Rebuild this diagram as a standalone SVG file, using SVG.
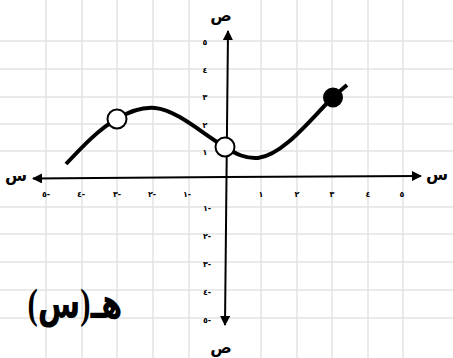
<svg xmlns="http://www.w3.org/2000/svg" width="453" height="358" viewBox="0 0 453 358">
<defs>
<marker id="arr" viewBox="0 0 10 10" refX="9" refY="5" markerWidth="5" markerHeight="5" orient="auto" markerUnits="strokeWidth">
<path d="M0,0 L10,5 L0,10 z" fill="#000"/>
</marker>
<style>
.grid{stroke:#e3e3e3;stroke-width:1.5;fill:none}
.axis{stroke:#000;stroke-width:2;fill:none;marker-end:url(#arr)}
.tick{font-family:"DejaVu Sans",sans-serif;font-size:8px;font-weight:bold;fill:#000;text-anchor:middle}
.ax{font-family:"DejaVu Sans",sans-serif;font-size:16px;font-weight:bold;fill:#000;text-anchor:middle}
.curve{stroke:#000;stroke-width:4;fill:none;stroke-linecap:butt}
.open{fill:#fff;stroke:#000;stroke-width:2}
.closed{fill:#000;stroke:#000;stroke-width:2}
</style>
</defs>
<rect width="453" height="358" fill="#fff"/>
<g id="grid" class="grid">
<path d="M46,0V358M82,0V358M117,0V358M153,0V358M189,0V358M261,0V358M297,0V358M332,0V358M368,0V358M403,0V358"/>
<path d="M0,41H453M0,69H453M0,97H453M0,124H453M0,151H453M0,207H453M0,234H453M0,262H453M0,290H453M0,318H453"/>
</g>
<g id="connectors">
<line class="axis" x1="226" y1="177" x2="421" y2="176"/>
<line class="axis" x1="226" y1="177" x2="33" y2="178.5"/>
<line class="axis" x1="226.5" y1="177" x2="228" y2="31"/>
<line class="axis" x1="226.5" y1="177" x2="225" y2="325"/>
</g>
<g id="axis-labels">
<text class="ax" x="16" y="181">س</text>
<text class="ax" x="437" y="180">س</text>
<text class="ax" x="221" y="21">ص</text>
<text class="ax" x="221" y="353">ص</text>
</g>
<g id="x-ticks">
<text class="tick" x="46" y="197">٥-</text>
<text class="tick" x="81" y="197">٤-</text>
<text class="tick" x="117" y="197">٣-</text>
<text class="tick" x="152" y="197">٢-</text>
<text class="tick" x="187" y="197">١-</text>
<text class="tick" x="261" y="197">١</text>
<text class="tick" x="297" y="197">٢</text>
<text class="tick" x="332" y="197">٣</text>
<text class="tick" x="368" y="197">٤</text>
<text class="tick" x="402" y="197">٥</text>
</g>
<g id="y-ticks">
<text class="tick" x="205" y="45">٥</text>
<text class="tick" x="205" y="73">٤</text>
<text class="tick" x="205" y="100">٣</text>
<text class="tick" x="205" y="128">٢</text>
<text class="tick" x="205" y="155">١</text>
<text class="tick" x="207" y="211">١-</text>
<text class="tick" x="207" y="239">٢-</text>
<text class="tick" x="207" y="267">٣-</text>
<text class="tick" x="207" y="295">٤-</text>
<text class="tick" x="207" y="323">٥-</text>
</g>
<g id="curve">
<path class="curve" d="M66,164 C83,146 100,128 117,119 C130,111 143,107 155,108 C177,110 203,134 225,147 C236,154 246,159 258,158 C283,155 310,120 333,97 L347,85"/>
</g>
<g id="point-a"><circle class="open" cx="117" cy="119" r="9.5"/></g>
<g id="point-b"><circle class="open" cx="225" cy="147" r="9.5"/></g>
<g id="point-c"><circle class="closed" cx="333" cy="97.5" r="9"/></g>
<g id="function-label">
<text x="75" y="318" direction="rtl" text-anchor="middle" textLength="95" lengthAdjust="spacingAndGlyphs" font-family="Liberation Serif, DejaVu Sans, serif" font-size="42" font-weight="bold" fill="#000">هـ(س)</text>
</g>
</svg>
